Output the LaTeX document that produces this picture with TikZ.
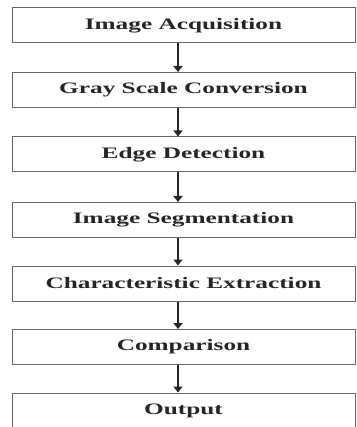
\documentclass[tikz,border=0pt]{standalone}
\usepackage{fontspec}
\usepackage{graphicx}
\setmainfont{Liberation Serif}
\usetikzlibrary{arrows.meta}
\newcommand{\widetxt}[1]{\scalebox{1.58}[1]{#1}}
\begin{document}
\begin{tikzpicture}[x=1pt,y=1pt,
  stepbox/.style={draw=black!60,line width=1pt,minimum width=343pt,minimum height=35pt,inner sep=0pt,font=\bfseries\fontsize{16}{18}\selectfont,text=black!85},
  flow/.style={draw=black!85,line width=1.4pt,-{Triangle[length=6pt,width=9pt]}}]
\useasboundingbox (0,0) rectangle (356,-427);
\node[stepbox] (a) at (183.5,-25.5) {\widetxt{Image Acquisition}};
\node[stepbox] (b) at (183.5,-90) {\widetxt{Gray Scale Conversion}};
\node[stepbox] (c) at (183.5,-154.5) {\widetxt{Edge Detection}};
\node[stepbox] (d) at (183.5,-220) {\widetxt{Image Segmentation}};
\node[stepbox] (e) at (183.5,-283.5) {\widetxt{Characteristic Extraction}};
\node[stepbox] (f) at (183.5,-347) {\widetxt{Comparison}};
\node[stepbox] (g) at (183.5,-410.5) {\widetxt{Output}};
\foreach \u/\v in {a/b,b/c,c/d,d/e,e/f,f/g}
  \draw[flow] ([xshift=-5.5pt]\u.south) -- ([xshift=-5.5pt]\v.north);
\end{tikzpicture}
\end{document}
